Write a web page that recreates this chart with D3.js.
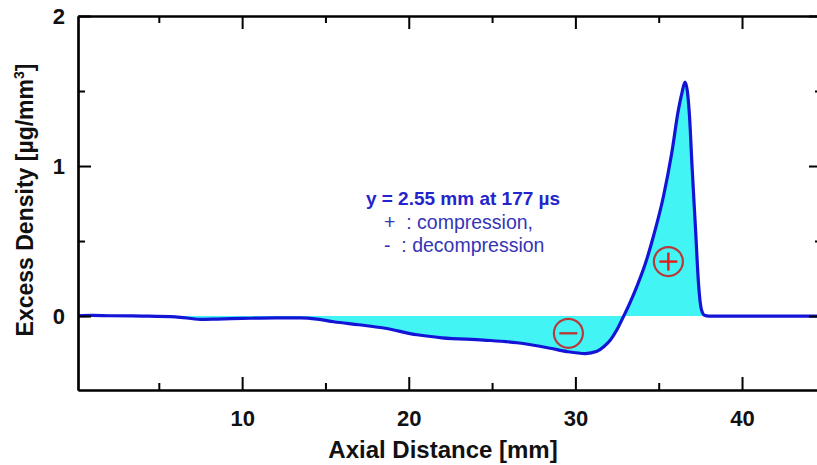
<!DOCTYPE html>
<html>
<head>
<meta charset="utf-8">
<script src="https://cdn.jsdelivr.net/npm/d3@7"></script>
<style>
  body { margin: 0; background: #fff; }
  svg { display: block; font-family: "Liberation Sans", Arial, sans-serif; }
</style>
</head>
<body>
<div id="chart"></div>
<script>
// axial distance [mm] and excess density [ug/mm^3]
const distance = [0.15, 1, 2, 4, 6, 7.5, 8.5, 10, 12, 13.5, 14.5, 15.5, 17, 18.5, 20.5, 22, 24.5, 26.5, 28.5, 29.5, 30.6, 31.3, 31.7, 32.1, 32.5, 32.9, 33.3, 33.68, 34.2, 34.68, 35.28, 35.78, 36.18, 36.4, 36.58, 36.85, 37.0, 37.2, 37.4, 37.55, 37.75, 38.0, 39, 44.9];
const density = [0.002, 0.004, 0.002, 0.0, -0.005, -0.022, -0.02, -0.016, -0.012, -0.012, -0.02, -0.038, -0.058, -0.08, -0.125, -0.145, -0.16, -0.178, -0.215, -0.237, -0.25, -0.235, -0.205, -0.16, -0.09, 0, 0.095, 0.195, 0.35, 0.53, 0.795, 1.085, 1.373, 1.49, 1.56, 1.33, 1.0, 0.6, 0.2, 0.05, 0.005, 0.0, 0.0, 0.0];

const xMajor = [10, 20, 30, 40];
const xMinor = [5, 15, 25, 35];
const yMajor = [0, 1, 2];
const yMinor = [0.5, 1.5];

const noteLines = ["y = 2.55 mm at 177 \u00b5s", "+  : compression,", "-  : decompression"];

const W = 817, H = 465;
const mL = 78, mT = 16, mR = 822, mB = 390;

const svg = d3.select("#chart").append("svg")
  .attr("width", W).attr("height", H)
  .style("overflow", "hidden");

const x = d3.scaleLinear().domain([0.15, 44.8]).range([mL, mR]);
const y = d3.scaleLinear().domain([-0.493, 2]).range([mB, mT]);

const pts = distance.map((d, i) => [d, density[i]]);

svg.append("clipPath").attr("id", "plotclip")
  .append("rect").attr("x", mL).attr("y", mT)
  .attr("width", mR - mL).attr("height", mB - mT);

const g = svg.append("g").attr("clip-path", "url(#plotclip)");

g.append("path")
  .datum(pts)
  .attr("d", d3.area().curve(d3.curveMonotoneX)
    .x(d => x(d[0])).y0(y(0)).y1(d => y(d[1])))
  .style("fill", "#42f4f4");

g.append("path")
  .datum(pts)
  .attr("d", d3.line().curve(d3.curveMonotoneX)
    .x(d => x(d[0])).y(d => y(d[1])))
  .style("fill", "none")
  .style("stroke", "#1414d6")
  .style("stroke-width", 3.2)
  .style("stroke-linejoin", "round");

// axes: major + minor ticks on all four sides, pointing inward
function frame(axis, tr, ticks, size, labels) {
  const a = svg.append("g").attr("transform", tr)
    .call(axis.tickValues(ticks).tickSizeInner(-size).tickSizeOuter(0).tickPadding(10)
      .tickFormat(labels ? d3.format("d") : ""));
  a.select(".domain").style("stroke", "#000").style("stroke-width", 2.2);
  a.selectAll(".tick line").style("stroke", "#000").style("stroke-width", 2);
  a.selectAll("text").style("font-size", "22px").style("font-weight", "bold").style("fill", "#111");
  return a;
}
frame(d3.axisBottom(x), `translate(0,${mB})`, xMajor, 13, true)
  .selectAll("text").attr("y", 20);
frame(d3.axisBottom(x), `translate(0,${mB})`, xMinor, 7, false);
frame(d3.axisTop(x), `translate(0,${mT})`, xMajor, 13, false);
frame(d3.axisTop(x), `translate(0,${mT})`, xMinor, 7, false);
frame(d3.axisLeft(y), `translate(${mL},0)`, yMajor, 13, true)
  .selectAll("text").attr("x", -13);
frame(d3.axisLeft(y), `translate(${mL},0)`, yMinor, 7, false);
frame(d3.axisRight(y), `translate(${mR},0)`, yMajor, 13, false);
frame(d3.axisRight(y), `translate(${mR},0)`, yMinor, 7, false);

// axis titles
svg.append("text")
  .attr("x", 443).attr("y", 458)
  .attr("text-anchor", "middle")
  .style("font-size", "24px").style("font-weight", "bold").style("fill", "#111")
  .text("Axial Distance [mm]");

const yt = svg.append("text")
  .attr("transform", `translate(33,200) rotate(-90)`)
  .attr("text-anchor", "middle")
  .style("font-size", "23px").style("font-weight", "bold").style("fill", "#111");
yt.append("tspan").text("Excess Density [\u00b5g/mm");
yt.append("tspan").attr("dy", -9).style("font-size", "14px").text("3");
yt.append("tspan").attr("dy", 9).text("]");

// annotation
svg.selectAll(".note").data(noteLines).enter().append("text")
  .attr("class", "note")
  .attr("x", (d, i) => i === 0 ? 463 : 384)
  .attr("y", (d, i) => 205 + i * 23.5)
  .attr("text-anchor", (d, i) => i === 0 ? "middle" : "start")
  .style("font-size", (d, i) => i === 0 ? "19px" : "19.5px")
  .style("font-weight", (d, i) => i === 0 ? "bold" : "normal")
  .style("fill", (d, i) => i === 0 ? "#2424cc" : "#3535b6")
  .style("white-space", "pre")
  .text(d => d);

// +/- markers
const marks = [{ at: 29.58, v: -0.115, sign: "-" }, { at: 35.58, v: 0.363, sign: "+" }];
marks.forEach(m => {
  const cx = x(m.at), cy = y(m.v), r = 14.5;
  svg.append("circle").attr("cx", cx).attr("cy", cy).attr("r", r)
    .style("fill", "none").style("stroke", "#b83a3a").style("stroke-width", 2.2);
  const col = m.sign === "+" ? "#e01e1e" : "#b83a3a";
  svg.append("line").attr("x1", cx - 9).attr("x2", cx + 9).attr("y1", cy).attr("y2", cy)
    .style("stroke", col).style("stroke-width", 2.4);
  if (m.sign === "+") {
    svg.append("line").attr("x1", cx).attr("x2", cx).attr("y1", cy - 9).attr("y2", cy + 9)
      .style("stroke", col).style("stroke-width", 2.4);
  }
});
</script>
</body>
</html>
